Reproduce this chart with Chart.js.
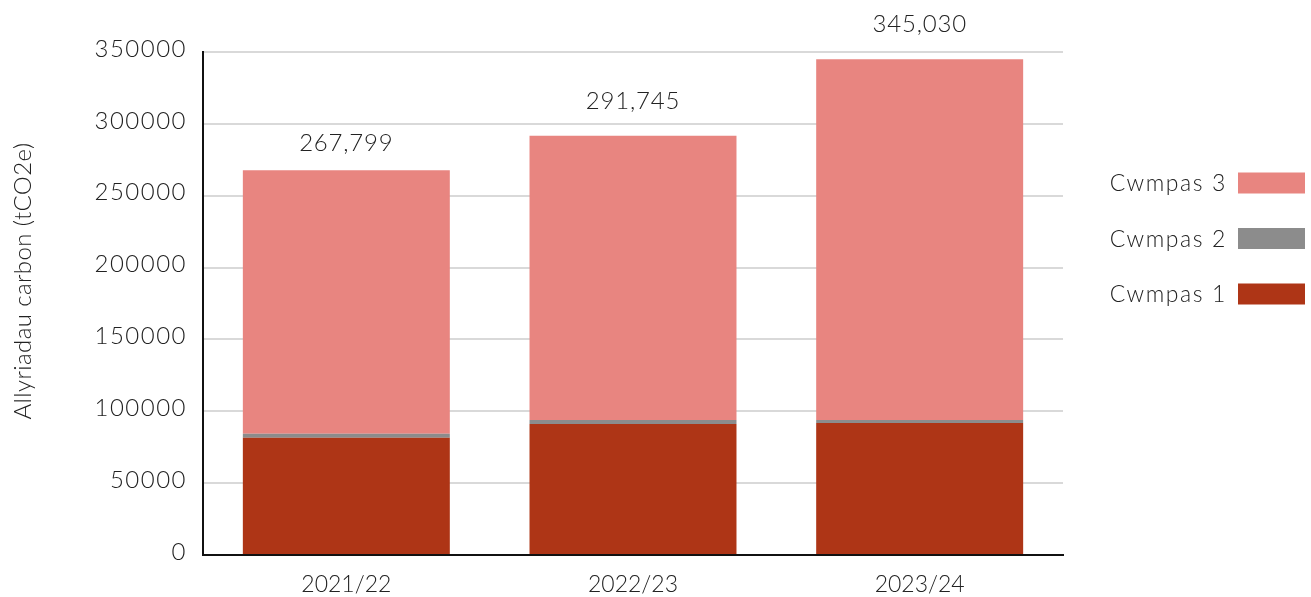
<!DOCTYPE html>
<html>
<head>
<meta charset="utf-8">
<script src="https://cdn.jsdelivr.net/npm/chart.js@4.4.1/dist/chart.umd.min.js"></script>
<style>
  html, body { margin: 0; padding: 0; background: #fff; }
  #wrap { width: 1311px; height: 597px; position: relative; }
</style>
</head>
<body>
<div id="wrap"><canvas id="c" width="1311" height="597"></canvas></div>
<script>
const categories = ['2021/22', '2022/23', '2023/24'];
const cwmpas1 = [81600, 91160, 91860];
const cwmpas2 = [2800, 2800, 2100];
const cwmpas3 = [183399, 197785, 251070];
const totals = [267799, 291745, 345030];
const seriesLabels = ['Cwmpas 1', 'Cwmpas 2', 'Cwmpas 3'];
const yAxisTitle = 'Allyriadau carbon (tCO2e)';

const FONT = 'Lato';
const TEXT = '#222222';

// letter spacing only for y tick labels (drawn before datasets)
const spacingPlugin = {
  id: 'spacing',
  beforeDraw(chart) { chart.ctx.letterSpacing = '1.5px'; },
  beforeDatasetsDraw(chart) { chart.ctx.letterSpacing = '0px'; }
};

const totalsPlugin = {
  id: 'totals',
  afterDatasetsDraw(chart) {
    const ctx = chart.ctx;
    const gaps = [27, 34, 35];
    const top = chart.getDatasetMeta(chart.data.datasets.length - 1);
    ctx.save();
    ctx.letterSpacing = '0.8px';
    ctx.font = '300 24px ' + FONT;
    ctx.fillStyle = TEXT;
    ctx.textAlign = 'center';
    ctx.textBaseline = 'middle';
    top.data.forEach((bar, i) => {
      ctx.fillText(totals[i].toLocaleString('en-US'), bar.x, bar.y - gaps[i]);
    });
    ctx.restore();
  }
};

const legendPlugin = {
  id: 'sideLegend',
  afterDraw(chart) {
    const ctx = chart.ctx;
    const ds = chart.data.datasets;
    const boxRight = 1305, boxW = 67, boxH = 21, gap = 11;
    const firstY = 183, step = 55.5;
    ctx.save();
    ctx.letterSpacing = '1.6px';
    ctx.font = '300 23px ' + FONT;
    ctx.textAlign = 'right';
    ctx.textBaseline = 'middle';
    for (let k = 0; k < ds.length; k++) {
      const d = ds[ds.length - 1 - k];
      const cy = firstY + k * step;
      ctx.fillStyle = d.backgroundColor;
      ctx.fillRect(boxRight - boxW, cy - boxH / 2, boxW, boxH);
      ctx.fillStyle = TEXT;
      ctx.fillText(d.label, boxRight - boxW - gap, cy + 1);
    }
    // y axis title
    ctx.letterSpacing = '0.4px';
    ctx.font = '300 24px ' + FONT;
    ctx.textAlign = 'center';
    ctx.translate(23, 281);
    ctx.rotate(-Math.PI / 2);
    ctx.fillText(yAxisTitle, 0, 0);
    ctx.restore();
  }
};

new Chart(document.getElementById('c'), {
  type: 'bar',
  data: {
    labels: categories,
    datasets: [
      { label: seriesLabels[0], data: cwmpas1, backgroundColor: '#AE3516' },
      { label: seriesLabels[1], data: cwmpas2, backgroundColor: '#8C8C8C' },
      { label: seriesLabels[2], data: cwmpas3, backgroundColor: '#E88580' }
    ]
  },
  options: {
    responsive: false,
    animation: false,
    devicePixelRatio: 1,
    layout: { padding: { left: 0, right: 248, top: 52, bottom: 0 } },
    datasets: { bar: { categoryPercentage: 1.0, barPercentage: 0.722, borderWidth: 0 } },
    plugins: {
      legend: { display: false },
      tooltip: { enabled: false }
    },
    scales: {
      x: {
        stacked: true,
        grid: { display: false, drawTicks: false },
        border: { display: true, color: '#111111', width: 2 },
        ticks: { z: 1, color: TEXT, font: { family: FONT, size: 23, weight: 300 }, padding: 16 },
        afterFit(s) { s.height = 42; }
      },
      y: {
        stacked: true,
        min: 0,
        max: 350000,
        grid: { color: '#d9d9d9', lineWidth: 2, drawTicks: false },
        border: { display: true, color: '#111111', width: 2 },
        ticks: {
          z: 0,
          stepSize: 50000,
          color: TEXT,
          padding: 16,
          labelOffset: -3,
          font: { family: FONT, size: 24, weight: 300 },
          callback: (v) => String(v)
        },
        title: { display: false },
        afterFit(s) { s.width = 203; }
      }
    }
  },
  plugins: [spacingPlugin, totalsPlugin, legendPlugin]
});
</script>
</body>
</html>
